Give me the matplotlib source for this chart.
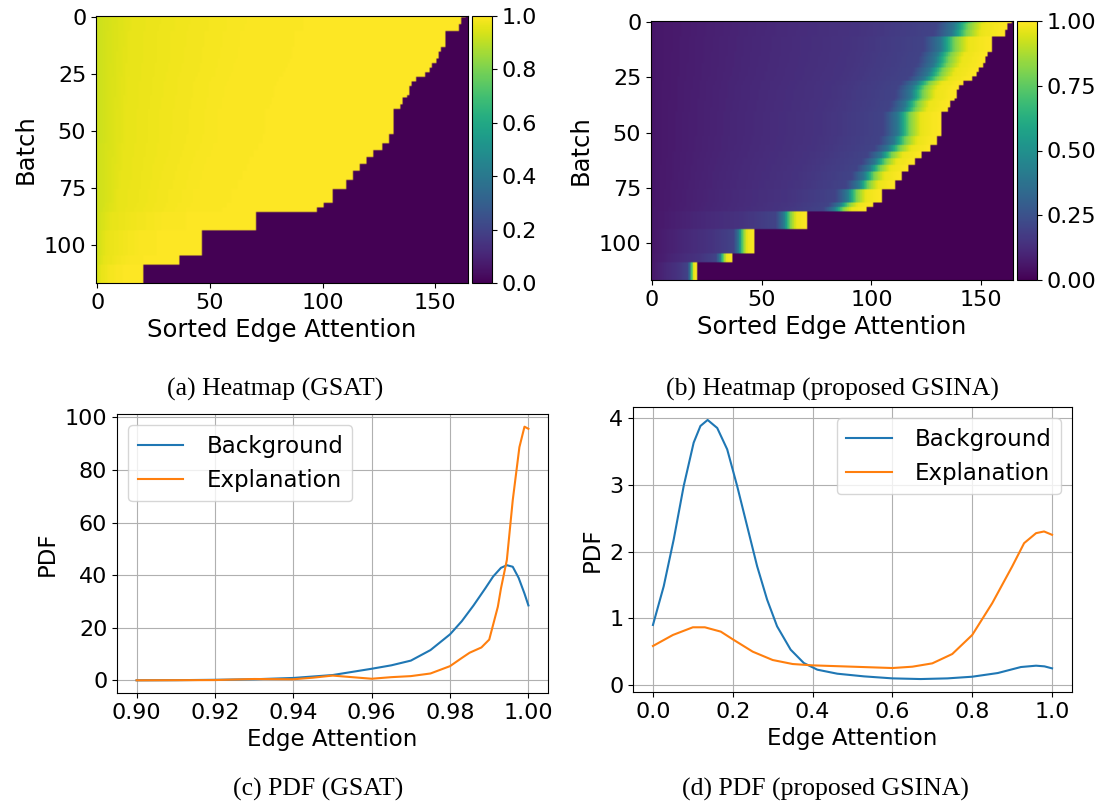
import numpy as np
import matplotlib
matplotlib.use('Agg')
import matplotlib.pyplot as plt

# ---- heatmap data: number of edges per batch row (run-length: rows, edges)
seg_rows = [1, 3, 3, 7, 2, 3, 2, 2, 2, 2, 2, 2, 4, 1, 3, 2, 11, 4, 3, 3, 3, 3, 4, 4, 6, 2, 2, 8, 11, 4, 8]
seg_edges = [164, 162, 161, 155, 153, 152, 151, 149, 148, 146, 142, 140, 139, 138, 136, 135,
             132, 130, 127, 123, 120, 117, 114, 111, 105, 101, 98, 71, 47, 37, 21]
n_cols = 165

# sorted attention profile along a row (position as fraction of row length)
gsat_frac = [0.0, 0.04, 0.10, 0.25, 0.45, 1.0]
gsat_vals = [0.92, 0.94, 0.965, 0.98, 0.995, 1.0]
gsina_frac = [0.0, 0.3, 0.6, 0.8, 0.85, 0.89, 0.93, 1.0]
gsina_vals = [0.06, 0.11, 0.15, 0.20, 0.40, 0.80, 0.97, 1.0]

# ---- PDF curves
gsat_bg_x = [0.900, 0.910, 0.920, 0.930, 0.940, 0.950, 0.960, 0.965, 0.970, 0.975, 0.980, 0.983,
             0.986, 0.989, 0.991, 0.993, 0.9945, 0.996, 0.9975, 0.999, 1.000]
gsat_bg_y = [0.0, 0.05, 0.2, 0.4, 0.9, 2.0, 4.4, 5.7, 7.5, 11.5, 17.5, 22.5,
             28.5, 35.0, 39.5, 42.8, 43.8, 43.2, 39.0, 33.0, 28.5]
gsat_ex_x = [0.900, 0.920, 0.930, 0.940, 0.945, 0.950, 0.955, 0.960, 0.965, 0.970, 0.975, 0.980,
             0.983, 0.985, 0.988, 0.990, 0.9922, 0.993, 0.9945, 0.996, 0.9977, 0.999, 1.000]
gsat_ex_y = [0.0, 0.1, 0.5, 0.4, 1.0, 1.8, 1.2, 0.6, 1.2, 1.6, 2.6, 5.4,
             8.5, 10.5, 12.5, 15.5, 28.0, 35.0, 45.8, 68.5, 88.7, 96.5, 95.7]

gsina_bg_x = [0.0, 0.027, 0.052, 0.077, 0.102, 0.119, 0.137, 0.161, 0.186, 0.211, 0.236, 0.261,
              0.286, 0.311, 0.345, 0.378, 0.412, 0.462, 0.529, 0.6, 0.671, 0.738, 0.8, 0.864,
              0.922, 0.96, 0.981, 1.0]
gsina_bg_y = [0.90, 1.48, 2.18, 2.98, 3.63, 3.88, 3.97, 3.85, 3.53, 2.98, 2.38, 1.78,
              1.28, 0.88, 0.53, 0.33, 0.23, 0.17, 0.13, 0.10, 0.09, 0.10, 0.125, 0.18,
              0.27, 0.29, 0.28, 0.25]
gsina_ex_x = [0.0, 0.05, 0.1, 0.13, 0.17, 0.2, 0.25, 0.3, 0.35, 0.4, 0.5, 0.6, 0.65, 0.7,
              0.75, 0.8, 0.85, 0.9, 0.93, 0.96, 0.98, 1.0]
gsina_ex_y = [0.585, 0.75, 0.865, 0.865, 0.80, 0.685, 0.50, 0.375, 0.315, 0.295, 0.275, 0.255,
              0.275, 0.325, 0.465, 0.75, 1.225, 1.775, 2.125, 2.275, 2.30, 2.25]


def build_heatmap(frac, vals):
    rows = []
    for count, n in zip(seg_rows, seg_edges):
        pos = (np.arange(n) + 0.5) / n
        row = np.zeros(n_cols)
        row[:n] = np.interp(pos, frac, vals)
        rows.extend([row] * count)
    return np.array(rows)


W, H = 1102, 802
fs = 16


def box(x0, y0, x1, y1):
    return [x0 / W, 1 - y1 / H, (x1 - x0) / W, (y1 - y0) / H]


fig = plt.figure(figsize=(W / 100, H / 100), dpi=100)

# (a) heatmap GSAT
ax_a = fig.add_axes(box(96, 16, 468, 283))
im = ax_a.imshow(build_heatmap(gsat_frac, gsat_vals), cmap='viridis', vmin=0, vmax=1, aspect='auto')
ax_a.set_xticks([0, 50, 100, 150])
ax_a.set_yticks([0, 25, 50, 75, 100])
ax_a.tick_params(labelsize=fs)
ax_a.set_xlabel('Sorted Edge Attention', fontsize=17.5)
ax_a.set_ylabel('Batch', fontsize=17.5)
cax_a = fig.add_axes(box(472, 16, 492, 283))
cb = fig.colorbar(im, cax=cax_a, ticks=[0.0, 0.2, 0.4, 0.6, 0.8, 1.0])
cb.ax.tick_params(labelsize=fs)
cb.ax.set_yticklabels(['0.0', '0.2', '0.4', '0.6', '0.8', '1.0'])

# (b) heatmap GSINA
ax_b = fig.add_axes(box(651, 21, 1013, 280))
im2 = ax_b.imshow(build_heatmap(gsina_frac, gsina_vals), cmap='viridis', vmin=0, vmax=1, aspect='auto')
ax_b.set_xticks([0, 50, 100, 150])
ax_b.set_yticks([0, 25, 50, 75, 100])
ax_b.tick_params(labelsize=fs)
ax_b.set_xlabel('Sorted Edge Attention', fontsize=17.5)
ax_b.set_ylabel('Batch', fontsize=17.5)
cax_b = fig.add_axes(box(1017, 21, 1037, 280))
cb2 = fig.colorbar(im2, cax=cax_b, ticks=[0.0, 0.25, 0.5, 0.75, 1.0])
cb2.ax.tick_params(labelsize=fs)
cb2.ax.set_yticklabels(['0.00', '0.25', '0.50', '0.75', '1.00'])

# (c) PDF GSAT
ax_c = fig.add_axes(box(117, 414, 548, 693))
ax_c.plot(gsat_bg_x, gsat_bg_y, label='Background')
ax_c.plot(gsat_ex_x, gsat_ex_y, label='Explanation')
ax_c.set_xticks([0.90, 0.92, 0.94, 0.96, 0.98, 1.00])
ax_c.set_xticklabels(['0.90', '0.92', '0.94', '0.96', '0.98', '1.00'])
ax_c.set_yticks([0, 20, 40, 60, 80, 100])
ax_c.tick_params(labelsize=fs)
ax_c.grid(True)
ax_c.set_xlabel('Edge Attention', fontsize=16.5)
ax_c.set_ylabel('PDF', fontsize=16.5)
ax_c.legend(loc='upper left', fontsize=16.5, handletextpad=1.0)

# (d) PDF GSINA
ax_d = fig.add_axes(box(633, 407, 1072, 692))
ax_d.plot(gsina_bg_x, gsina_bg_y, label='Background')
ax_d.plot(gsina_ex_x, gsina_ex_y, label='Explanation')
ax_d.set_xticks([0.0, 0.2, 0.4, 0.6, 0.8, 1.0])
ax_d.set_yticks([0, 1, 2, 3, 4])
ax_d.tick_params(labelsize=fs)
ax_d.grid(True)
ax_d.set_xlabel('Edge Attention', fontsize=16.5)
ax_d.set_ylabel('PDF', fontsize=16.5)
ax_d.legend(loc='upper right', fontsize=16.5, handletextpad=1.0)

# captions
cap = dict(family='Liberation Serif', fontsize=18.5, ha='center', va='center')
fig.text(275 / W, 1 - 389 / H, '(a) Heatmap (GSAT)', **cap)
fig.text(832 / W, 1 - 389 / H, '(b) Heatmap (proposed GSINA)', **cap)
fig.text(318 / W, 1 - 789 / H, '(c) PDF (GSAT)', **cap)
fig.text(825 / W, 1 - 789 / H, '(d) PDF (proposed GSINA)', **cap)

fig.savefig('out.png', dpi=100)
